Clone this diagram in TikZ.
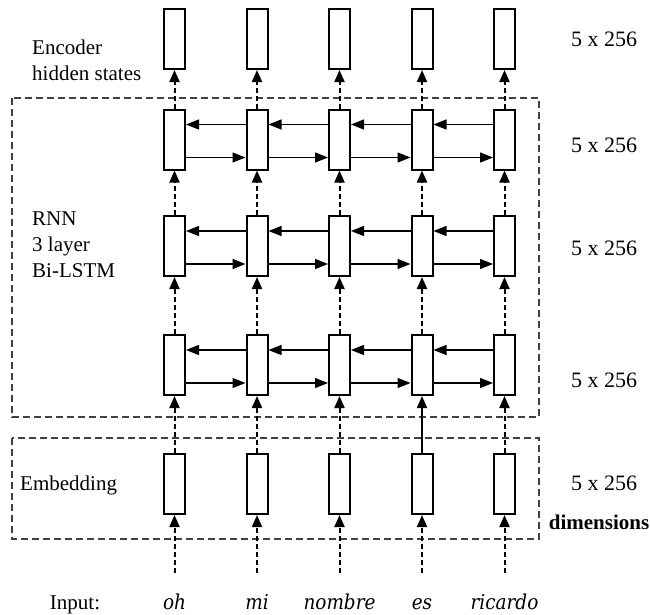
\documentclass[tikz,border=0pt]{standalone}
\usepackage{fontspec}
\setmainfont{Liberation Serif}
\newfontfamily\wordfont{DejaVu Serif Condensed}
\usetikzlibrary{arrows.meta}

\tikzset{
  cell/.style={draw, line width=2pt, fill=white, minimum width=21pt,
    minimum height=60pt, inner sep=0pt},
  up/.style={-{Triangle[length=12pt,width=10pt]}, line width=2pt,
    dash pattern=on 5pt off 3pt},
  side/.style={-{Triangle[length=13pt,width=10pt]}, line width=1.2pt},
  frame/.style={draw=black!75, line width=1.3pt, dash pattern=on 7pt off 4pt},
  sidetext/.style={font=\fontsize{21}{26}\selectfont, align=left,
    anchor=west, inner sep=0pt},
  dimtext/.style={font=\fontsize{22}{26}\selectfont, inner sep=0pt},
  word/.style={font=\wordfont\itshape\fontsize{20.5}{24}\selectfont,
    inner sep=0pt, anchor=base},
}

\begin{document}
\begin{tikzpicture}[x=1pt, y=-1pt]
  \useasboundingbox (0,0) rectangle (650,614);

  % Dashed frames round the LSTM and the embedding
  \draw [frame] (12,98) rectangle (539,417);
  \draw [frame] (12,438) rectangle (539,539);

  % One column of cells per input word
  \foreach \i/\x/\w in {1/174.5/oh, 2/257/mi, 3/339.5/nombre, 4/422/es, 5/504.5/ricardo} {
    \node [cell] (enc\i) at (\x,39) {};
    \node [cell] (top\i) at (\x,139.5) {};
    \node [cell] (mid\i) at (\x,246) {};
    \node [cell] (bot\i) at (\x,365) {};
    \node [cell] (emb\i) at (\x,484) {};
    \node [word] (in\i) at (\x,609) {\w};
    \coordinate (src\i) at (\x,573);
  }

  % Upward links
  \foreach \i in {1,...,5} {
    \draw [up] (src\i) -- (emb\i.south);
    \draw [up] (bot\i.north) -- (mid\i.south);
    \draw [up] (mid\i.north) -- (top\i.south);
    \draw [up] (top\i.north) -- (enc\i.south);
  }
  \foreach \i in {1,2,3,5}
    \draw [up] (emb\i.north) -- (bot\i.south);
  \draw [up, solid] (emb4.north) -- (bot4.south);

  % Forward and backward links in each layer
  \foreach \row in {top,mid,bot} {
    \foreach \i/\j in {1/2,2/3,3/4,4/5} {
      \draw [side] ([yshift=-18pt]\row\i.east) -- ([yshift=-18pt]\row\j.west);
      \draw [side] ([yshift=15pt]\row\j.west) -- ([yshift=15pt]\row\i.east);
    }
  }

  % Left labels
  \node [sidetext] (enctext) at (32,60) {Encoder\\hidden states};
  \node [sidetext] (rnntext) at (32,245) {RNN\\3 layer\\Bi-LSTM};
  \node [sidetext] (embtext) at (20,485) {Embedding};
  \node [sidetext, anchor=base] (intext) at (75,609) {Input:};

  % Sizes on the right
  \node [dimtext] (encdim) at (604,39) {5 x 256};
  \node [dimtext] (topdim) at (604,145) {5 x 256};
  \node [dimtext] (middim) at (604,248) {5 x 256};
  \node [dimtext] (botdim) at (604,380) {5 x 256};
  \node [dimtext] (embdim) at (604,483) {5 x 256};
  \node [dimtext, font=\bfseries\fontsize{21}{26}\selectfont] (dimword) at (599,522) {dimensions};
\end{tikzpicture}
\end{document}
